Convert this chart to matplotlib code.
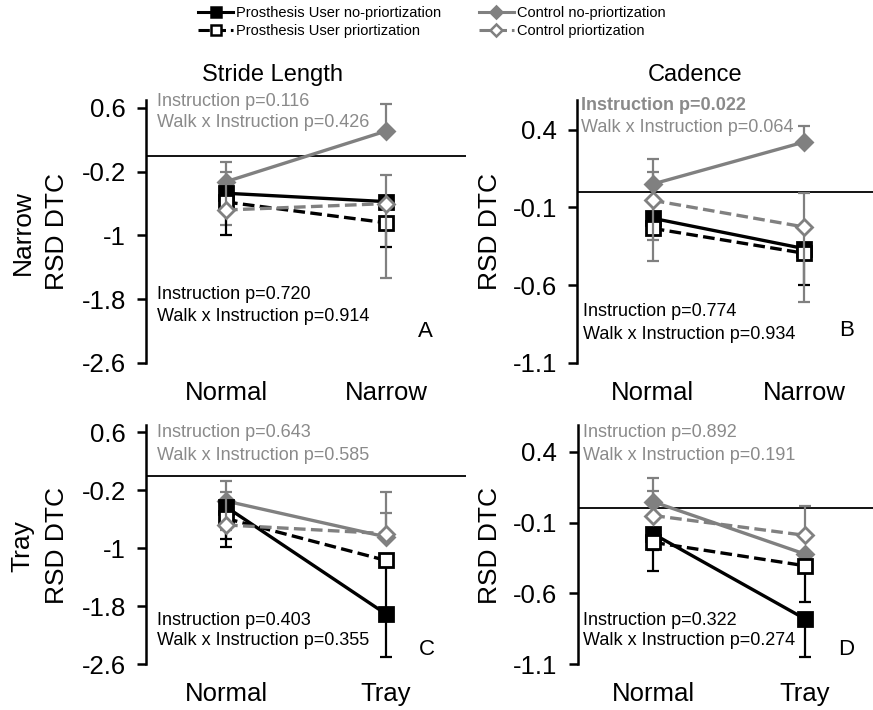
import numpy as np
import matplotlib.pyplot as plt
from matplotlib.lines import Line2D

plt.rcParams['font.family'] = ['Liberation Sans', 'DejaVu Sans']

series_labels = ["Prosthesis User no-priortization", "Prosthesis User priortization",
                 "Control no-priortization", "Control priortization"]
narrow_walks = ["Normal", "Narrow"]
tray_walks = ["Normal", "Tray"]

# mean RSD DTC, one row per series (same order as series_labels)
stride_narrow = [[-0.47, -0.575], [-0.58, -0.84], [-0.325, 0.31], [-0.68, -0.60]]
stride_narrow_lo = [[0, 0], [0.41, 0.31], [0.545, 0], [0, 0.93]]
stride_narrow_hi = [[0, 0], [0, 0], [0.25, 0.345], [0.48, 0.36]]

cadence_narrow = [[-0.17, -0.365], [-0.235, -0.395], [0.05, 0.32], [-0.055, -0.226]]
cadence_narrow_lo = [[0, 0], [0, 0.205], [0.36, 0], [0.39, 0.48]]
cadence_narrow_hi = [[0, 0], [0, 0], [0.16, 0.10], [0.18, 0.216]]

stride_tray = [[-0.43, -1.91], [-0.59, -1.17], [-0.35, -0.845], [-0.68, -0.80]]
stride_tray_lo = [[0.44, 0.60], [0.39, 0.74], [0, 0], [0.07, 0]]
stride_tray_hi = [[0, 0], [0, 0], [0.27, 0.625], [0.46, 0.28]]

cadence_tray = [[-0.18, -0.78], [-0.24, -0.405], [0.047, -0.322], [-0.05, -0.19]]
cadence_tray_lo = [[0.115, 0.27], [0.2, 0.26], [0, 0], [0, 0]]
cadence_tray_hi = [[0, 0], [0, 0], [0.17, 0], [0.17, 0.21]]

stride_ticks = [0.6, -0.2, -1, -1.8, -2.6]
stride_ticklabels = ["0.6", "-0.2", "-1", "-1.8", "-2.6"]
cadence_ticks = [0.4, -0.1, -0.6, -1.1]
cadence_ticklabels = ["0.4", "-0.1", "-0.6", "-1.1"]

ctrl_stats = [("Instruction p=0.116", "Walk x Instruction p=0.426"),
              ("Instruction p=0.022", "Walk x Instruction p=0.064"),
              ("Instruction p=0.643", "Walk x Instruction p=0.585"),
              ("Instruction p=0.892", "Walk x Instruction p=0.191")]
pu_stats = [("Instruction p=0.720", "Walk x Instruction p=0.914"),
            ("Instruction p=0.774", "Walk x Instruction p=0.934"),
            ("Instruction p=0.403", "Walk x Instruction p=0.355"),
            ("Instruction p=0.322", "Walk x Instruction p=0.274")]
panel_letters = ["A", "B", "C", "D"]

GRAY = '#808080'
TXT_GRAY = '#8a8a8a'
styles = [dict(color='k', ls='-', marker='s', ms=10, mfc='k', z=3),
          dict(color='k', ls='--', marker='s', ms=10, mfc='white', z=4),
          dict(color=GRAY, ls='-', marker='D', ms=8.5, mfc=GRAY, z=2),
          dict(color=GRAY, ls='--', marker='D', ms=8.5, mfc='white', z=5)]

W, H = 873, 710
fig = plt.figure(figsize=(W / 100, H / 100), dpi=100)


def px_axes(left, top, width, height):
    return fig.add_axes([left / W, 1 - (top + height) / H, width / W, height / H])


def draw_panel(ax, means, lo, hi, walks, ticks, ticklabels, ylim):
    x = np.arange(2)
    ax.axhline(0, color='k', lw=1.3, zorder=0)
    for m, l, h, st in zip(means, lo, hi, styles):
        ax.errorbar(x, m, yerr=[l, h], fmt='none', ecolor=st['color'], elinewidth=1.6,
                    capsize=4, capthick=1.6, zorder=st['z'])
        line, = ax.plot(x, m, color=st['color'], lw=2.4, marker=st['marker'], ms=st['ms'],
                        mfc=st['mfc'], mec=st['color'], mew=2, zorder=st['z'] + 0.5)
        if st['ls'] == '--':
            line.set_dashes((3.5, 1.6))
    ax.set_xlim(-0.5, 1.5)
    ax.set_ylim(*ylim)
    for s in ['top', 'right', 'bottom']:
        ax.spines[s].set_visible(False)
    ax.spines['left'].set_linewidth(1.8)
    ax.set_yticks(ticks, ticklabels)
    ax.tick_params(axis='y', direction='out', length=6.5, width=1.8, pad=8, labelsize=18.5)
    ax.set_xticks(x, walks)
    ax.tick_params(axis='x', length=0, pad=13, labelsize=18.5)


axA = px_axes(146, 100, 320, 263)
axB = px_axes(577, 100, 303, 263)
axC = px_axes(146, 425, 320, 239)
axD = px_axes(577.5, 425, 303, 239)

draw_panel(axA, stride_narrow, stride_narrow_lo, stride_narrow_hi, narrow_walks,
           stride_ticks, stride_ticklabels, (-2.6, 0.7))
draw_panel(axB, cadence_narrow, cadence_narrow_lo, cadence_narrow_hi, narrow_walks,
           cadence_ticks, cadence_ticklabels, (-1.1, 0.59))
draw_panel(axC, stride_tray, stride_tray_lo, stride_tray_hi, tray_walks,
           stride_ticks, stride_ticklabels, (-2.6, 0.7))
draw_panel(axD, cadence_tray, cadence_tray_lo, cadence_tray_hi, tray_walks,
           cadence_ticks, cadence_ticklabels, (-1.1, 0.59))

# stats text: (x, gray y1, gray y2, black y1, black y2, letter x, letter y) in axes fractions
text_pos = [(0.034, 0.996, 0.913, 0.259, 0.176, 0.872, 0.119),
            (0.012, 0.978, 0.895, 0.195, 0.110, 0.888, 0.123),
            (0.034, 0.967, 0.874, 0.181, 0.0975, 0.877, 0.059),
            (0.018, 0.967, 0.874, 0.181, 0.0975, 0.888, 0.062)]
for i, ax in enumerate([axA, axB, axC, axD]):
    tx, g1, g2, b1, b2, lx, ly = text_pos[i]
    bx = tx + (0.008 if i == 1 else 0)
    ax.text(tx, g1, ctrl_stats[i][0], transform=ax.transAxes, color=TXT_GRAY, fontsize=13,
            va='center', fontweight='bold' if i == 1 else 'normal', zorder=10)
    ax.text(tx, g2, ctrl_stats[i][1], transform=ax.transAxes, color=TXT_GRAY, fontsize=13,
            va='center', zorder=10)
    ax.text(bx, b1, pu_stats[i][0], transform=ax.transAxes, color='k', fontsize=13, va='center')
    ax.text(bx, b2, pu_stats[i][1], transform=ax.transAxes, color='k', fontsize=13, va='center')
    ax.text(lx, ly, panel_letters[i], transform=ax.transAxes, fontsize=16, ha='center', va='center')

fig.text(272 / W, 1 - 75 / H, "Stride Length", fontsize=17, ha='center', va='center')
fig.text(695 / W, 1 - 75 / H, "Cadence", fontsize=17, ha='center', va='center')

for x, y, s in [(23, 233, "Narrow"), (57, 232, "RSD DTC"), (490, 232, "RSD DTC"),
                (22, 546, "Tray"), (57, 545, "RSD DTC"), (490, 545, "RSD DTC")]:
    fig.text(x / W, 1 - y / H, s, fontsize=19, rotation=90, ha='center', va='center')

handles = [Line2D([], [], color=st['color'], ls=st['ls'], lw=2.2, marker=st['marker'],
                  ms=7 if st['marker'] == 's' else 6, mfc=st['mfc'], mec=st['color'], mew=1.8)
           for st in styles]
fig.legend(handles, series_labels, ncol=2, loc='upper left', bbox_to_anchor=(198 / W, 1 - 6 / H),
           frameon=False, fontsize=10.5, handlelength=2.4, handletextpad=0.2, columnspacing=2.6,
           labelspacing=0.3, borderaxespad=0, borderpad=0)

fig.savefig('out.png', dpi=100)
